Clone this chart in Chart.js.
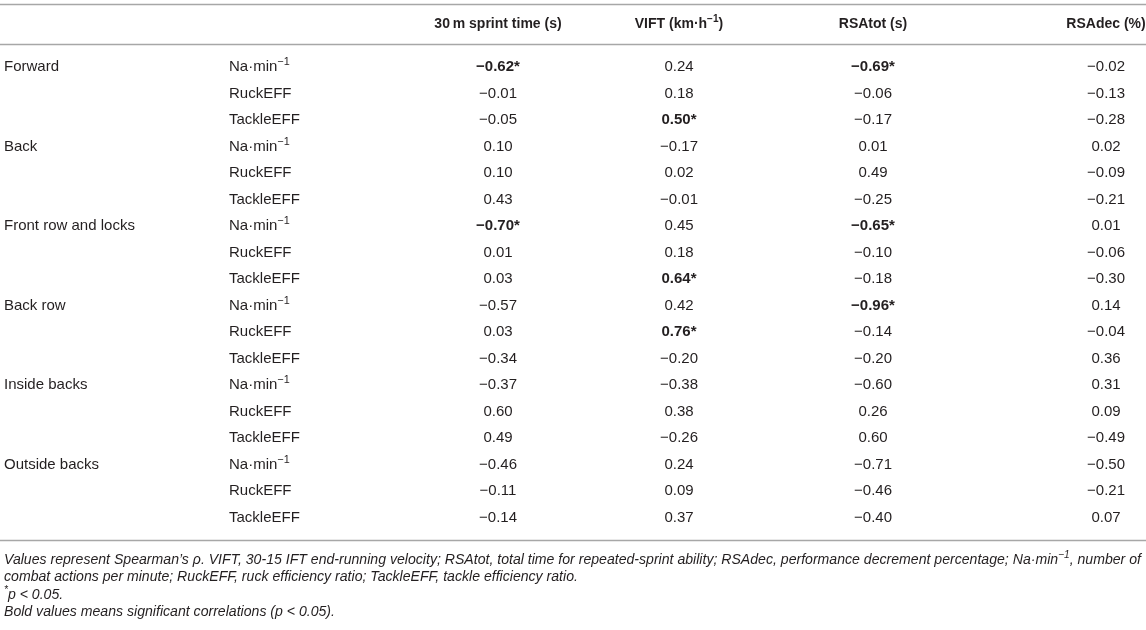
<!DOCTYPE html>
<html>
<head>
<meta charset="utf-8">
<script src="https://cdn.jsdelivr.net/npm/chart.js@4.4.1/dist/chart.umd.min.js"></script>
<style>
html,body{margin:0;padding:0;background:#fff;}
#wrap{width:1146px;height:630px;}
</style>
</head>
<body>
<div id="wrap"><canvas id="table"></canvas></div>
<script>
// ---- data ----
const headers = ["30\u2009m sprint time (s)", "VIFT (km\u00b7h^{\u22121})", "RSAtot (s)", "RSAdec (%)"];
const groups = ["Forward", "Back", "Front row and locks", "Back row", "Inside backs", "Outside backs"];
const measures = ["Na\u00b7min^{\u22121}", "RuckEFF", "TackleEFF"];
const sprint = [-0.62, -0.01, -0.05, 0.10, 0.10, 0.43, -0.70, 0.01, 0.03, -0.57, 0.03, -0.34, -0.37, 0.60, 0.49, -0.46, -0.11, -0.14];
const vift   = [0.24, 0.18, 0.50, -0.17, 0.02, -0.01, 0.45, 0.18, 0.64, 0.42, 0.76, -0.20, -0.38, 0.38, -0.26, 0.24, 0.09, 0.37];
const rsaTot = [-0.69, -0.06, -0.17, 0.01, 0.49, -0.25, -0.65, -0.10, -0.18, -0.96, -0.14, -0.20, -0.60, 0.26, 0.60, -0.71, -0.46, -0.40];
const rsaDec = [-0.02, -0.13, -0.28, 0.02, -0.09, -0.21, 0.01, -0.06, -0.30, 0.14, -0.04, 0.36, 0.31, 0.09, -0.49, -0.50, -0.21, 0.07];
// rows (index) with p < 0.05, per column
const sigSprint = [0, 6];
const sigVift = [2, 8, 10];
const sigRsaTot = [0, 6, 9];
const sigRsaDec = [];
const notes = [
  "Values represent Spearman\u2019s \u03c1. VIFT, 30-15 IFT end-running velocity; RSAtot, total time for repeated-sprint ability; RSAdec, performance decrement percentage; Na\u00b7min^{\u22121}, number of",
  "combat actions per minute; RuckEFF, ruck efficiency ratio; TackleEFF, tackle efficiency ratio.",
  "^{*}p < 0.05.",
  "Bold values means significant correlations (p < 0.05)."
];

// ---- layout ----
const FONT = "'Liberation Sans', Arial, sans-serif";
const INK = "#231f20";
const colCenters = [498, 679, 873, 1106];
const groupX = 4, measureX = 229;
const headerRow = -1.62, topRule = -2.38, headRule = -0.87, bottomRule = 17.85;
const noteRows = [18.6, 19.25, 19.92, 20.57];

function fmt(v) {
  return (v < 0 ? "\u2212" : "") + Math.abs(v).toFixed(2);
}

// text with ^{...} superscripts
function parts(text) {
  const out = [];
  const re = /\^\{([^}]*)\}/g;
  let last = 0, m;
  while ((m = re.exec(text))) {
    if (m.index > last) out.push({t: text.slice(last, m.index), sup: false});
    out.push({t: m[1], sup: true});
    last = re.lastIndex;
  }
  if (last < text.length) out.push({t: text.slice(last), sup: false});
  return out;
}

function drawRich(ctx, text, x, y, align, size, style) {
  const segs = parts(text);
  const main = style + " " + size + "px " + FONT;
  const small = style + " " + (size * 0.72) + "px " + FONT;
  let w = 0;
  segs.forEach(s => { ctx.font = s.sup ? small : main; s.w = ctx.measureText(s.t).width; w += s.w; });
  let cx = align === "center" ? x - w / 2 : (align === "right" ? x - w : x);
  ctx.textAlign = "left";
  ctx.textBaseline = "middle";
  segs.forEach(s => {
    ctx.font = s.sup ? small : main;
    ctx.fillText(s.t, cx, s.sup ? y - size * 0.32 : y);
    cx += s.w;
  });
}

const columns = [
  {values: sprint, sig: sigSprint},
  {values: vift, sig: sigVift},
  {values: rsaTot, sig: sigRsaTot},
  {values: rsaDec, sig: sigRsaDec}
];

const tablePlugin = {
  id: "tableText",
  afterDatasetsDraw(chart) {
    const ctx = chart.ctx;
    const y = chart.scales.y;
    const x = chart.scales.x;
    ctx.save();
    ctx.fillStyle = INK;

    // rules
    ctx.strokeStyle = "#a7a7a7";
    ctx.lineWidth = 1.5;
    [topRule, headRule, bottomRule].forEach(r => {
      const py = Math.round(y.getPixelForValue(r)) + 0.5;
      ctx.beginPath();
      ctx.moveTo(x.left, py);
      ctx.lineTo(x.right, py);
      ctx.stroke();
    });

    // header
    headers.forEach((h, i) => {
      drawRich(ctx, h, x.getPixelForValue(colCenters[i]), y.getPixelForValue(headerRow), "center", 14, "bold");
    });

    // row labels
    groups.forEach((g, i) => {
      drawRich(ctx, g, x.getPixelForValue(groupX), y.getPixelForValue(i * measures.length), "left", 15, "normal");
    });
    sprint.forEach((_, i) => {
      drawRich(ctx, measures[i % measures.length], x.getPixelForValue(measureX), y.getPixelForValue(i), "left", 15, "normal");
    });

    // values, placed at the points the scales computed
    chart.data.datasets.forEach((ds, di) => {
      const meta = chart.getDatasetMeta(di);
      const sig = columns[di].sig;
      meta.data.forEach((pt, i) => {
        const bold = sig.includes(i);
        const txt = fmt(ds.data[i].v) + (bold ? "*" : "");
        drawRich(ctx, txt, pt.x, pt.y, "center", 15, bold ? "bold" : "normal");
      });
    });

    // footnotes
    notes.forEach((n, i) => {
      drawRich(ctx, n, x.getPixelForValue(groupX), y.getPixelForValue(noteRows[i]), "left", 14.1, "italic");
    });
    ctx.restore();
  }
};

new Chart(document.getElementById("table"), {
  type: "scatter",
  data: {
    datasets: columns.map((c, ci) => ({
      data: c.values.map((v, i) => ({x: colCenters[ci], y: i, v: v})),
      pointRadius: 0,
      pointHoverRadius: 0
    }))
  },
  options: {
    responsive: true,
    maintainAspectRatio: false,
    animation: false,
    events: [],
    layout: {padding: 0},
    plugins: {legend: {display: false}, tooltip: {enabled: false}},
    scales: {
      x: {type: "linear", display: false, min: 0, max: 1146},
      y: {type: "linear", display: false, reverse: true, min: -2.528, max: 21.245}
    }
  },
  plugins: [tablePlugin]
});
</script>
</body>
</html>
